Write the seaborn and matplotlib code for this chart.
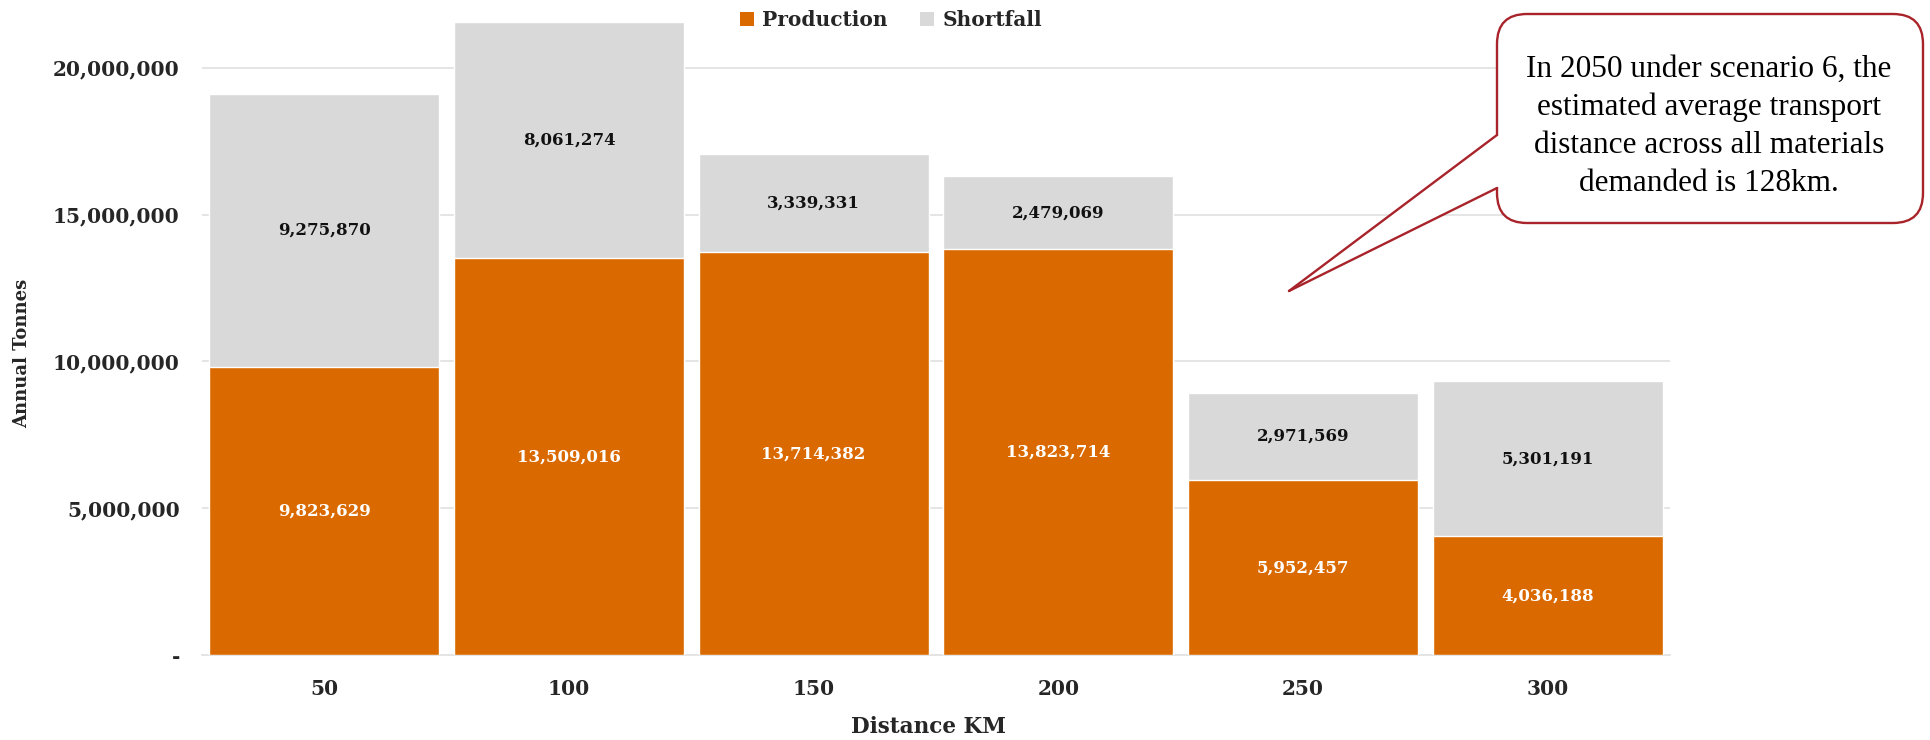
import matplotlib
matplotlib.use("Agg")
import matplotlib.pyplot as plt
import seaborn as sns
import pandas as pd
from matplotlib.patches import FancyBboxPatch, Polygon, Patch
from matplotlib.lines import Line2D
from matplotlib.ticker import FuncFormatter
from matplotlib.transforms import IdentityTransform

# Annual tonnes by transport distance
distances = ["50", "100", "150", "200", "250", "300"]
production = [9823629, 13509016, 13714382, 13823714, 5952457, 4036188]
shortfall = [9275870, 8061274, 3339331, 2479069, 2971569, 5301191]

ORANGE = "#DA6900"
GREY = "#D9D9D9"
CALLOUT = "#A8232A"
SERIF = "DejaVu Serif"

df = pd.DataFrame({
    "distance": distances,
    "production": production,
    "shortfall": shortfall,
})
df["total"] = df["production"] + df["shortfall"]

sns.set_theme(style="white")
plt.rcParams["font.family"] = [SERIF]

W, H = 1930, 740
fig = plt.figure(figsize=(W / 100, H / 100), dpi=100)
ax = fig.add_axes([202 / W, 1 - 655 / H, (1670 - 202) / W, (655 - 9) / H])

# stacked bars: full total in grey, production drawn over it
sns.barplot(data=df, x="distance", y="total", order=distances, color=GREY,
            width=0.94, saturation=1, ax=ax, zorder=2)
sns.barplot(data=df, x="distance", y="production", order=distances, color=ORANGE,
            width=0.94, saturation=1, ax=ax, zorder=3)

ax.set_ylim(0, 22_000_000)
ax.set_yticks([0, 5_000_000, 10_000_000, 15_000_000, 20_000_000])
ax.yaxis.set_major_formatter(FuncFormatter(lambda v, p: "-" if v == 0 else f"{v:,.0f}"))
ax.grid(axis="y", color="#E3E3E3", linewidth=1.3, zorder=0)
ax.set_axisbelow(True)
for s in ["top", "right", "left"]:
    ax.spines[s].set_visible(False)
ax.spines["bottom"].set_color("#E3E3E3")
ax.spines["bottom"].set_linewidth(1.3)
ax.tick_params(axis="y", length=0, pad=16, labelsize=14.5)
ax.tick_params(axis="x", length=0, pad=17, labelsize=14.5)
for lab in ax.get_xticklabels() + ax.get_yticklabels():
    lab.set_fontweight("bold")

ax.set_xlabel("Distance KM", fontsize=15.5, fontweight="bold")
ax.xaxis.set_label_coords(0.4946, -0.094)
ax.xaxis.label.set_va("top")
ax.set_ylabel("Annual Tonnes", fontsize=13, fontweight="bold")
ax.yaxis.set_label_coords(-0.1224, 0.4675)
ax.yaxis.label.set_va("center")

# value labels centred in each segment
for i, (p, s) in enumerate(zip(production, shortfall)):
    ax.text(i, p / 2, f"{p:,}", ha="center", va="center", color="white",
            fontsize=12, fontweight="bold", zorder=5)
    ax.text(i, p + s / 2, f"{s:,}", ha="center", va="center", color="#111111",
            fontsize=12, fontweight="bold", zorder=5)

handles = [Patch(facecolor=ORANGE, edgecolor="none", label="Production"),
           Patch(facecolor=GREY, edgecolor="none", label="Shortfall")]
fig.legend(handles=handles, loc="center", bbox_to_anchor=(891 / W, 1 - 20 / H),
           ncol=2, frameon=False, handlelength=0.7, handleheight=0.7,
           handletextpad=0.4, columnspacing=1.6,
           prop={"family": SERIF, "weight": "bold", "size": 14.5})

# speech-bubble callout, placed in pixel units (origin top-left)
px = IdentityTransform()


def pt(x, y):
    return (x, H - y)


box_l, box_t, box_r, box_b = 1497, 14, 1923, 223
join_top, join_bot = 135, 188
tip = (1289, 291)

bubble = FancyBboxPatch(pt(box_l, box_b), box_r - box_l, box_b - box_t,
                        boxstyle="round,pad=0,rounding_size=30",
                        transform=px, facecolor="white",
                        edgecolor=CALLOUT, linewidth=1.7, zorder=10)
fig.add_artist(bubble)
gap = Polygon([pt(box_l - 1, join_top + 1), pt(*tip), pt(box_l - 1, join_bot - 1),
               pt(box_l + 3, join_bot - 1), pt(box_l + 3, join_top + 1)],
              closed=True, transform=px, facecolor="white",
              edgecolor="none", zorder=11)
fig.add_artist(gap)
for yb in (join_top, join_bot):
    x0, y0 = pt(box_l, yb)
    x1, y1 = pt(*tip)
    fig.add_artist(Line2D([x0, x1], [y0, y1], transform=px, color=CALLOUT,
                          linewidth=1.7, solid_capstyle="round", zorder=12))

callout_lines = ["In 2050 under scenario 6, the",
                 "estimated average transport",
                 "distance across all materials",
                 "demanded is 128km."]
for k, line in enumerate(callout_lines):
    x, y = pt(1709, 77 + 38 * k)
    fig.text(x, y, line, transform=px, ha="center", va="baseline",
             fontsize=22.5, family="Liberation Serif", color="black", zorder=13)

fig.savefig("out.png", dpi=100)
